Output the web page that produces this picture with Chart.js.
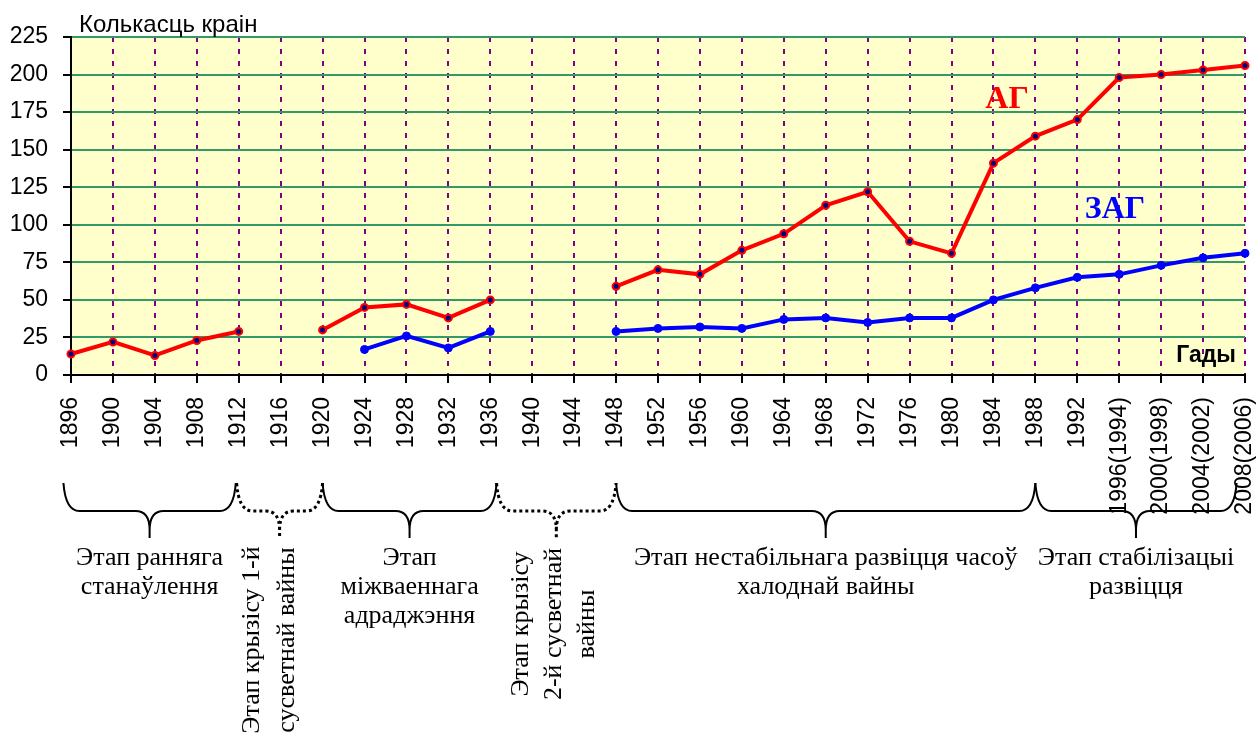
<!DOCTYPE html>
<html>
<head>
<meta charset="utf-8">
<title>Колькасць краін</title>
<script src="https://cdn.jsdelivr.net/npm/chart.js@4.4.0/dist/chart.umd.min.js"></script>
<style>
  html, body { margin: 0; padding: 0; background: #fff; }
  #wrap { width: 1258px; height: 738px; }
</style>
</head>
<body>
<div id="wrap"><canvas id="chart" width="1258" height="738"></canvas></div>
<script>
/* ── дадзеныя ── */
const years = [
  '1896','1900','1904','1908','1912','1916','1920','1924','1928','1932',
  '1936','1940','1944','1948','1952','1956','1960','1964','1968','1972',
  '1976','1980','1984','1988','1992','1996(1994)','2000(1998)','2004(2002)','2008(2006)'
];
// летнія гульні (АГ)
const agCountries = [
  14, 22, 13, 23, 29, null, 30, 45, 47, 38,
  50, null, null, 59, 70, 67, 83, 94, 113, 122,
  89, 81, 141, 159, 170, 198, 200, 203, 206
];
// зімовыя гульні (ЗАГ)
const zagCountries = [
  null, null, null, null, null, null, null, 17, 26, 18,
  29, null, null, 29, 31, 32, 31, 37, 38, 35,
  38, 38, 50, 58, 65, 67, 73, 78, 81
];
const yMin = 0, yMax = 225, yStep = 25;

// этапы: межы ў адзінках катэгорый
const stages = [
  { from: -0.18, to: 3.93,  dotted: false, vertical: false, lines: ['Этап ранняга', 'станаўлення'] },
  { from: 3.95,  to: 6,     dotted: true,  vertical: true,  lines: ['Этап крызісу 1-й', 'сусветнай вайны'] },
  { from: 6,     to: 10.15, dotted: false, vertical: false, lines: ['Этап', 'міжваеннага', 'адраджэння'] },
  { from: 10.15, to: 13,    dotted: true,  vertical: true,  lines: ['Этап крызісу', '2-й сусветнай', 'вайны'] },
  { from: 13,    to: 23,    dotted: false, vertical: false, lines: ['Этап нестабільнага развіцця часоў', 'халоднай вайны'] },
  { from: 23,    to: 27.8,  dotted: false, vertical: false, lines: ['Этап стабілізацыі', 'развіцця'] }
];

const SANS = '"Liberation Sans", Arial, sans-serif';
const SERIF = '"Liberation Serif", "Times New Roman", serif';

/* ── фон вобласці графіка ── */
const bgPlugin = {
  id: 'bg',
  beforeDraw(chart) {
    const { ctx, chartArea: a } = chart;
    ctx.save();
    ctx.fillStyle = '#fff';
    ctx.fillRect(0, 0, chart.width, chart.height);
    ctx.fillStyle = '#FFFFCC';
    ctx.fillRect(a.left, a.top, a.right - a.left, a.bottom - a.top);
    ctx.restore();
  }
};

function drawBrace(ctx, x0, x1, dotted) {
  const top = 483, mid = 511, tip = 538;
  const xm = (x0 + x1) / 2;
  ctx.save();
  ctx.strokeStyle = '#000';
  ctx.lineWidth = dotted ? 3 : 2;
  ctx.setLineDash(dotted ? [3, 3] : []);
  ctx.beginPath();
  ctx.moveTo(x0, top);
  ctx.quadraticCurveTo(x0 + 2, mid, x0 + 16, mid);
  ctx.lineTo(xm - 14, mid);
  ctx.quadraticCurveTo(xm, mid, xm, tip - 8);
  ctx.lineTo(xm, tip);
  ctx.moveTo(xm, tip - 8);
  ctx.quadraticCurveTo(xm, mid, xm + 14, mid);
  ctx.lineTo(x1 - 16, mid);
  ctx.quadraticCurveTo(x1 - 2, mid, x1, top);
  ctx.stroke();
  ctx.restore();
}

/* ── подпісы і дужкі этапаў ── */
const overlayPlugin = {
  id: 'overlay',
  afterDraw(chart) {
    const { ctx } = chart;
    const x = chart.scales.x;
    ctx.save();
    ctx.fillStyle = '#000';
    ctx.font = '24px ' + SANS;
    ctx.textAlign = 'left';
    ctx.textBaseline = 'alphabetic';
    ctx.fillText('Колькасць краін', 79, 32);

    ctx.font = 'bold 23px ' + SANS;
    ctx.textAlign = 'right';
    ctx.fillText('Гады', 1236, 362);

    ctx.font = 'bold 32px ' + SERIF;
    ctx.textAlign = 'center';
    ctx.fillStyle = '#FF0000';
    ctx.fillText('АГ', 1007, 108);
    ctx.fillStyle = '#0000FF';
    ctx.fillText('ЗАГ', 1115, 218);

    ctx.fillStyle = '#000';
    ctx.font = '26px ' + SERIF;
    stages.forEach(st => {
      const x0 = x.getPixelForValue(st.from);
      const x1 = x.getPixelForValue(st.to);
      const xm = (x0 + x1) / 2;
      drawBrace(ctx, x0, x1, st.dotted);
      if (st.vertical) {
        const n = st.lines.length;
        const gap = n === 2 ? 35 : 33;
        const cy = n === 2 ? 640 : 624;
        const cx = n === 2 ? xm - 10 : xm - 2;
        ctx.save();
        ctx.translate(cx, cy);
        ctx.rotate(-Math.PI / 2);
        ctx.textAlign = 'center';
        ctx.textBaseline = 'middle';
        st.lines.forEach((t, i) => ctx.fillText(t, 0, (i - (n - 1) / 2) * gap));
        ctx.restore();
      } else {
        ctx.textAlign = 'center';
        ctx.textBaseline = 'alphabetic';
        st.lines.forEach((t, i) => ctx.fillText(t, xm, 565 + i * 29));
      }
    });
    ctx.restore();
  }
};

/* ── графік ── */
new Chart(document.getElementById('chart'), {
  type: 'line',
  data: {
    labels: years,
    datasets: [
      {
        label: 'АГ',
        data: agCountries,
        borderColor: '#FF0000',
        borderWidth: 4,
        pointRadius: 3.5,
        pointBackgroundColor: '#000080',
        pointBorderColor: '#FF0000',
        pointBorderWidth: 2,
        spanGaps: false,
        tension: 0,
        clip: false
      },
      {
        label: 'ЗАГ',
        data: zagCountries,
        borderColor: '#0000FF',
        borderWidth: 4,
        pointRadius: 4,
        pointBackgroundColor: '#0000FF',
        pointBorderColor: '#0000FF',
        pointBorderWidth: 1,
        spanGaps: false,
        tension: 0,
        clip: false
      }
    ]
  },
  options: {
    responsive: false,
    animation: false,
    devicePixelRatio: 1,
    layout: { padding: { top: 37, right: 13, left: 0, bottom: 0 } },
    plugins: { legend: { display: false }, tooltip: { enabled: false } },
    scales: {
      x: {
        grid: { color: '#800080', lineWidth: 2, tickColor: '#000', tickWidth: 2, tickLength: 8 },
        border: { color: '#000', width: 2, dash: [5, 7] },
        ticks: {
          autoSkip: false, minRotation: 90, maxRotation: 90, padding: 14,
          color: '#000', font: { family: SANS, size: 23 }
        },
        afterFit: s => { s.height = 363; s.paddingLeft = 0; s.paddingRight = 0; }
      },
      y: {
        min: yMin, max: yMax,
        grid: { color: '#339966', lineWidth: 2, tickColor: '#000', tickWidth: 2, tickLength: 8 },
        border: { color: '#000', width: 2 },
        ticks: { stepSize: yStep, padding: 15, color: '#000', font: { family: SANS, size: 23 } },
        afterFit: s => { s.width = 71; }
      }
    }
  },
  plugins: [bgPlugin, overlayPlugin]
});
</script>
</body>
</html>
